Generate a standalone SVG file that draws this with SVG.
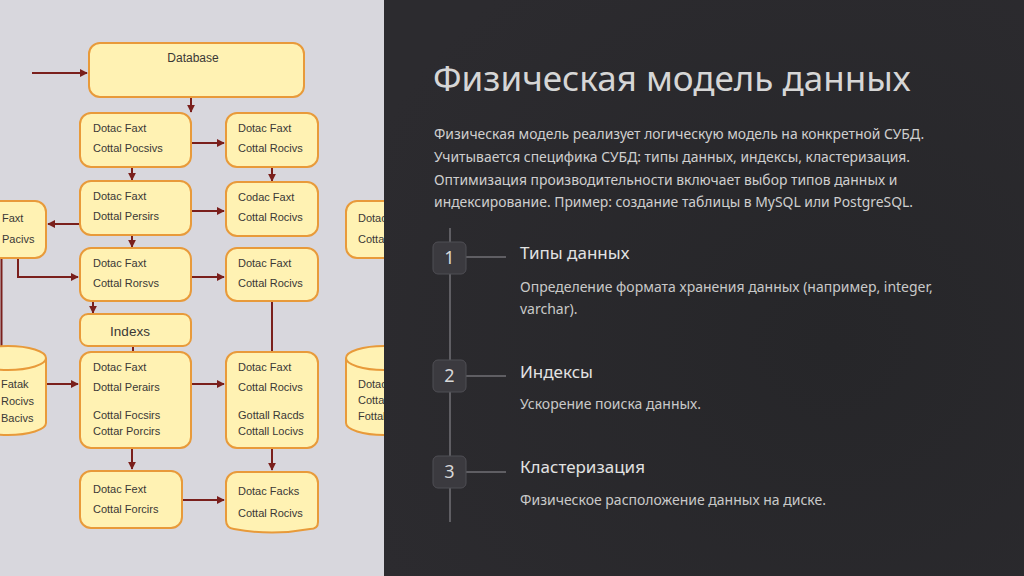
<svg xmlns="http://www.w3.org/2000/svg" width="1024" height="576" viewBox="0 0 1024 576">
<defs>
<style>
.nd{fill:#fff2b3;stroke:#e89a3a;stroke-width:2}
.nt{font-family:"Liberation Sans",Arial,sans-serif;font-size:11px;fill:#3a3836}
.cn{fill:none;stroke:#7a1f1c;stroke-width:2}
.ttl{font-family:"Noto Sans","Open Sans",sans-serif;font-size:35px;fill:#d6d6d6}
.par{font-family:"Noto Sans","Open Sans",sans-serif;font-size:13.9px;fill:#cfcfcf}
.hd{font-family:"Noto Sans","Open Sans",sans-serif;font-size:17px;fill:#e2e2e2}
.ds{font-family:"Noto Sans","Open Sans",sans-serif;font-size:14px;fill:#c9c9c9}
.bx{fill:#3b3a3f;stroke:#4f4e54;stroke-width:1}
.num{font-family:"Noto Sans","Open Sans",sans-serif;font-size:18px;fill:#d8d8d8;text-anchor:middle}
</style>
<marker id="ah" viewBox="0 0 10 10" refX="9" refY="5" markerWidth="4" markerHeight="4" orient="auto" markerUnits="strokeWidth">
<path d="M0 0L10 5L0 10z" fill="#7a1f1c"/>
</marker>
<radialGradient id="dk" cx="0.7" cy="0.6" r="0.8">
<stop offset="0" stop-color="#262629"/>
<stop offset="1" stop-color="#2c2b2f"/>
</radialGradient>
</defs>
<rect x="0" y="0" width="384" height="576" fill="#d8d7dd"/>

<g id="connectors">
<path class="cn" d="M32 73H87" marker-end="url(#ah)"/>
<path class="cn" d="M191 97V112" marker-end="url(#ah)"/>
<path class="cn" d="M192 143H224" marker-end="url(#ah)"/>
<path class="cn" d="M132 167V180" marker-end="url(#ah)"/>
<path class="cn" d="M272 167V181" marker-end="url(#ah)"/>
<path class="cn" d="M192 211H224" marker-end="url(#ah)"/>
<path class="cn" d="M80 224H48" marker-end="url(#ah)"/>
<path class="cn" d="M132 235V247" marker-end="url(#ah)"/>
<path class="cn" d="M18 258V277H78" marker-end="url(#ah)"/>
<path class="cn" d="M192 277H224" marker-end="url(#ah)"/>
<path class="cn" d="M93 301V313" marker-end="url(#ah)"/>
<path class="cn" d="M133 346V352"/>
<path class="cn" d="M272 301V352"/>
<path class="cn" d="M1.5 258V347"/>
<path class="cn" d="M47 384H78" marker-end="url(#ah)"/>
<path class="cn" d="M192 384H224" marker-end="url(#ah)"/>
<path class="cn" d="M132 448V469" marker-end="url(#ah)"/>
<path class="cn" d="M272 448V470" marker-end="url(#ah)"/>
<path class="cn" d="M182 500H224" marker-end="url(#ah)"/>
</g>

<g id="database">
<rect class="nd" x="89" y="43" width="215" height="54" rx="11"/>
<text class="nt" x="193" y="62" text-anchor="middle" style="font-size:12px">Database</text>
</g>
<g id="a1">
<rect class="nd" x="80" y="113" width="111" height="54" rx="11"/>
<text class="nt" x="93" y="132">Dotac Faxt</text>
<text class="nt" x="93" y="152">Cottal Pocsivs</text>
</g>
<g id="b1">
<rect class="nd" x="226" y="113" width="92" height="54" rx="11"/>
<text class="nt" x="238" y="132">Dotac Faxt</text>
<text class="nt" x="238" y="152">Cottal Rocivs</text>
</g>
<g id="a2">
<rect class="nd" x="80" y="181" width="111" height="54" rx="11"/>
<text class="nt" x="93" y="200">Dotac Faxt</text>
<text class="nt" x="93" y="220">Dottal Persirs</text>
</g>
<g id="b2">
<rect class="nd" x="226" y="182" width="92" height="54" rx="11"/>
<text class="nt" x="238" y="201">Codac Faxt</text>
<text class="nt" x="238" y="221">Cottal Rocivs</text>
</g>
<g id="left-node">
<rect class="nd" x="-12" y="201" width="58" height="57" rx="11"/>
<text class="nt" x="2" y="222">Faxt</text>
<text class="nt" x="2" y="243">Pacivs</text>
</g>
<g id="right-node">
<rect class="nd" x="346" y="201" width="60" height="57" rx="11"/>
<text class="nt" x="358" y="222">Dotac</text>
<text class="nt" x="358" y="243">Cottal</text>
</g>
<g id="a3">
<rect class="nd" x="80" y="248" width="111" height="53" rx="11"/>
<text class="nt" x="93" y="267">Dotac Faxt</text>
<text class="nt" x="93" y="287">Cottal Rorsvs</text>
</g>
<g id="b3">
<rect class="nd" x="226" y="248" width="92" height="53" rx="11"/>
<text class="nt" x="238" y="267">Dotac Faxt</text>
<text class="nt" x="238" y="287">Cottal Rocivs</text>
</g>
<g id="indexs">
<rect class="nd" x="80" y="314" width="111" height="32" rx="8"/>
<text class="nt" x="130" y="336" text-anchor="middle" style="font-size:13.5px">Indexs</text>
</g>
<g id="a4">
<rect class="nd" x="80" y="352" width="111" height="96" rx="11"/>
<text class="nt" x="93" y="371">Dotac Faxt</text>
<text class="nt" x="93" y="391">Dottal Perairs</text>
<text class="nt" x="93" y="419">Cottal Focsirs</text>
<text class="nt" x="93" y="435">Cottar Porcirs</text>
</g>
<g id="b4">
<rect class="nd" x="226" y="352" width="92" height="96" rx="11"/>
<text class="nt" x="238" y="371">Dotac Faxt</text>
<text class="nt" x="238" y="391">Cottal Rocivs</text>
<text class="nt" x="238" y="419">Gottall Racds</text>
<text class="nt" x="238" y="435">Cottall Locivs</text>
</g>
<g id="left-cylinder">
<path class="nd" d="M-30 358V423A38 12 0 0 0 46 423V358"/>
<ellipse class="nd" cx="8" cy="358" rx="38" ry="12"/>
<text class="nt" x="1" y="388">Fatak</text>
<text class="nt" x="1" y="405">Rocivs</text>
<text class="nt" x="1" y="422">Bacivs</text>
</g>
<g id="right-cylinder">
<path class="nd" d="M346 358V423A38 12 0 0 0 422 423V358"/>
<ellipse class="nd" cx="384" cy="358" rx="38" ry="12"/>
<text class="nt" x="358" y="388">Dotac</text>
<text class="nt" x="358" y="404">Cottal</text>
<text class="nt" x="358" y="420">Fottal</text>
</g>
<g id="a5">
<rect class="nd" x="80" y="471" width="102" height="57" rx="11"/>
<text class="nt" x="93" y="493">Dotac Fext</text>
<text class="nt" x="93" y="513">Cottal Forcirs</text>
</g>
<g id="b5">
<path class="nd" d="M237 472H307A11 11 0 0 1 318 483V522Q318 529 310 529Q272 536 234 529Q226 528 226 520V483A11 11 0 0 1 237 472Z"/>
<text class="nt" x="238" y="495">Dotac Facks</text>
<text class="nt" x="238" y="517">Cottal Rocivs</text>
</g>

<rect x="384" y="0" width="640" height="576" fill="url(#dk)"/>

<g id="title">
<text class="ttl" x="433" y="91">Физическая модель данных</text>
</g>
<g id="intro">
<text class="par" x="434" y="139">Физическая модель реализует логическую модель на конкретной СУБД.</text>
<text class="par" x="434" y="162">Учитывается специфика СУБД: типы данных, индексы, кластеризация.</text>
<text class="par" x="434" y="185">Оптимизация производительности включает выбор типов данных и</text>
<text class="par" x="434" y="207">индексирование. Пример: создание таблицы в MySQL или PostgreSQL.</text>
</g>
<g id="timeline-line">
<line x1="450" y1="228" x2="450" y2="522" stroke="#5f5e63" stroke-width="2"/>
</g>
<g id="step1">
<line x1="466" y1="257" x2="506" y2="257" stroke="#5f5e63" stroke-width="2"/>
<rect class="bx" x="433" y="242" width="33" height="32" rx="5"/>
<text class="num" x="449.5" y="264">1</text>
<text class="hd" x="520" y="259">Типы данных</text>
<text class="ds" x="520" y="292">Определение формата хранения данных (например, integer,</text>
<text class="ds" x="520" y="314">varchar).</text>
</g>
<g id="step2">
<line x1="466" y1="376" x2="506" y2="376" stroke="#5f5e63" stroke-width="2"/>
<rect class="bx" x="433" y="360" width="33" height="32" rx="5"/>
<text class="num" x="449.5" y="382">2</text>
<text class="hd" x="520" y="378">Индексы</text>
<text class="ds" x="520" y="409">Ускорение поиска данных.</text>
</g>
<g id="step3">
<line x1="466" y1="472" x2="506" y2="472" stroke="#5f5e63" stroke-width="2"/>
<rect class="bx" x="433" y="456" width="33" height="32" rx="5"/>
<text class="num" x="449.5" y="478">3</text>
<text class="hd" x="520" y="473">Кластеризация</text>
<text class="ds" x="520" y="505">Физическое расположение данных на диске.</text>
</g>
</svg>
